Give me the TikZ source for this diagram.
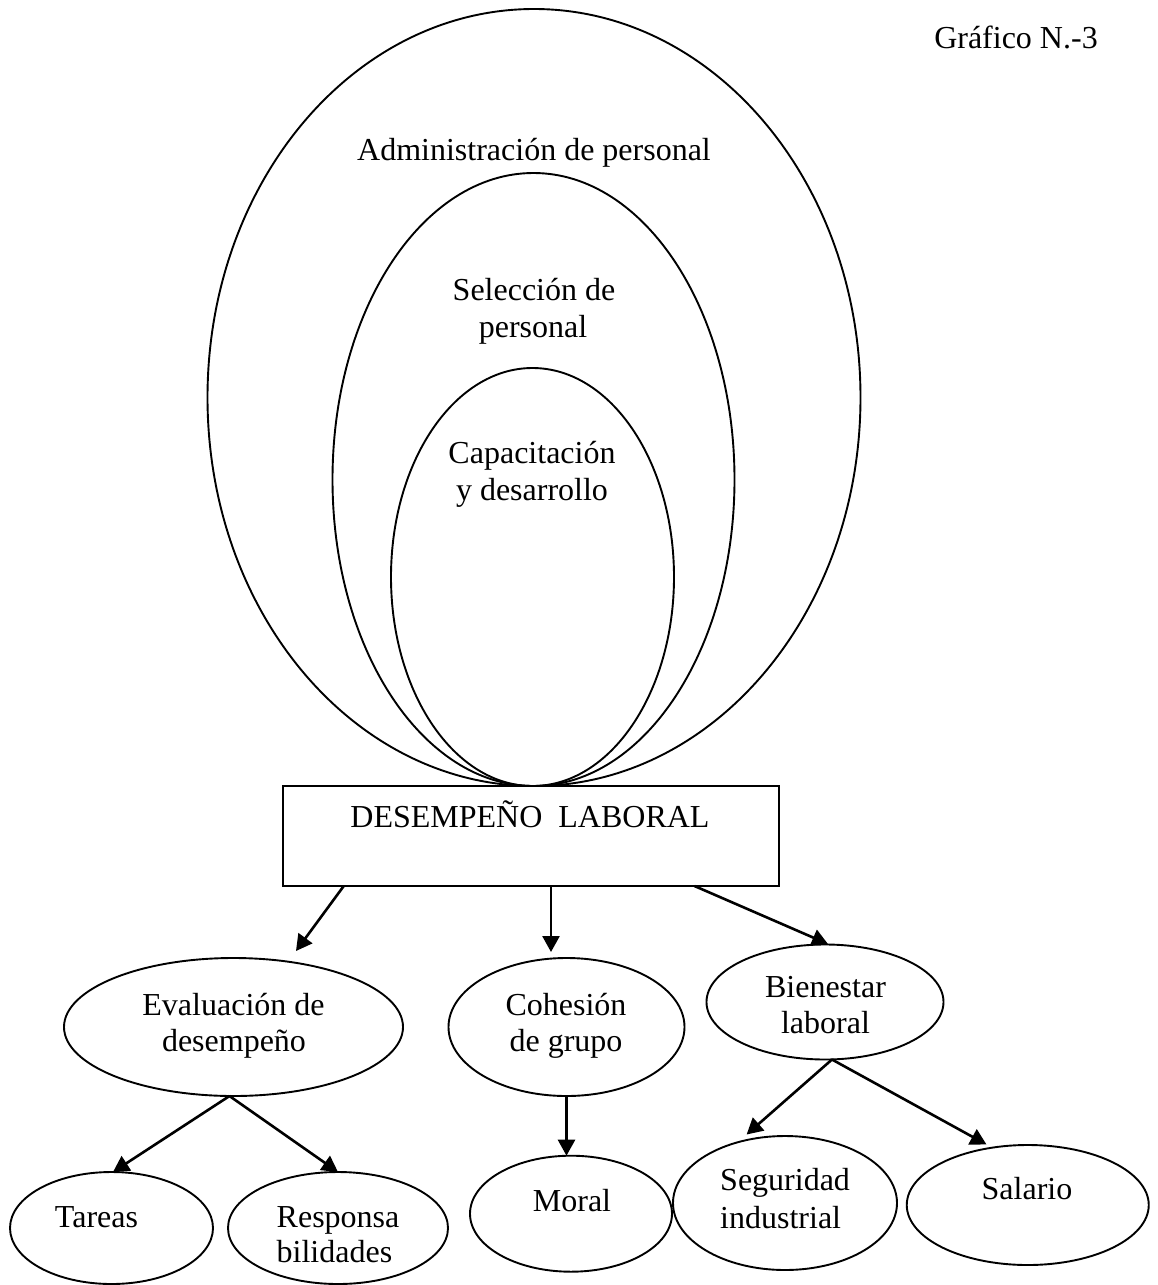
\documentclass[tikz,border=0pt]{standalone}
\usepackage{fontspec}
\setmainfont{Liberation Serif}
\usetikzlibrary{arrows.meta,calc,shapes.geometric}
\begin{document}
\begin{tikzpicture}[x=1pt,y=-1pt,
  shapeline/.style={draw, line width=1.9pt, inner sep=0pt, outer sep=0pt},
  oval/.style={shapeline, ellipse},
  txt/.style={inner sep=0pt, anchor=base, font=\fontsize{32}{36.5}\selectfont},
  txtl/.style={txt, anchor=base west},
  arr/.style={line width=2.6pt, -{Triangle[length=16pt,width=17pt]}}]
\useasboundingbox (0,0) rectangle (1157,1285);

% title
\node[txt] (title) at (1016,48) {Gráfico N.-3};

% nested ellipses
\node[oval, minimum width=653pt, minimum height=777pt] (adm) at (534,397.5) {};
\node[oval, minimum width=402pt, minimum height=613pt] (sel) at (533.5,479.5) {};
\node[oval, minimum width=283pt, minimum height=418pt] (cap) at (532.5,577) {};
\node[txt] (admt) at (534,160) {Administración de personal};
\node[txt] (selt1) at (534,300) {Selección de};
\node[txt] (selt2) at (533,337) {personal};
\node[txt] (capt1) at (532,463) {Capacitación};
\node[txt] (capt2) at (532,500) {y desarrollo};

% central box
\node[shapeline, rectangle, minimum width=496pt, minimum height=100pt] (des) at (531,836) {};
\node[txt] (dest) at (530,827) {DESEMPEÑO\ \ LABORAL};

% second level
\node[oval, minimum width=339pt, minimum height=138pt] (ev) at (233.5,1027) {};
\node[txt] (evt1) at (233.5,1015) {Evaluación de};
\node[txt] (evt2) at (234,1051) {desempeño};

\node[oval, minimum width=236pt, minimum height=138pt] (coh) at (566.5,1027) {};
\node[txt] (coht1) at (566,1015) {Cohesión};
\node[txt] (coht2) at (566,1051) {de grupo};

\node[oval, minimum width=237pt, minimum height=115pt] (bien) at (825,1002) {};
\node[txt] (bient1) at (825.5,997) {Bienestar};
\node[txt] (bient2) at (825.5,1033) {laboral};

% third level
\node[oval, minimum width=203pt, minimum height=112pt] (tar) at (111.5,1228) {};
\node[txt] (tart) at (96.5,1227) {Tareas};

\node[oval, minimum width=220pt, minimum height=112pt] (resp) at (338,1228) {};
\node[txtl] (respt1) at (276.5,1227) {Responsa};
\node[txtl] (respt2) at (276.5,1262) {bilidades};

\node[oval, minimum width=202pt, minimum height=116pt] (mor) at (571,1213.7) {};
\node[txt] (mort) at (572,1211) {Moral};

\node[oval, minimum width=224pt, minimum height=134pt] (seg) at (785,1203) {};
\node[txtl] (segt1) at (720,1190) {Seguridad};
\node[txtl] (segt2) at (720,1228) {industrial};

\node[oval, minimum width=242pt, minimum height=120pt] (sal) at (1027.75,1205) {};
\node[txt] (salt) at (1027,1199) {Salario};

% connectors
\draw[arr] ([xshift=-187.25pt]des.south) -- ($(ev.north)+(62.5,-7)$);
\draw[arr] ([xshift=20pt]des.south) -- ($(coh.north)+(-15.5,-6)$);
\draw[arr] ([xshift=163.5pt]des.south) -- ($(bien.north)+(3,-0.5)$);
\draw[arr] ([xshift=-4pt]ev.south) -- ($(tar.north)+(1.5,0)$);
\draw[arr] ([xshift=-4pt]ev.south) -- ($(resp.north)+(0,0)$);
\draw[arr] (coh.south) -- (coh.south |- mor.north);
\draw[arr] ([xshift=7pt]bien.south) -- ($(seg.north)+(-38.4,-1.5)$);
\draw[arr] ([xshift=7pt]bien.south) -- ($(sal.north)+(-41.25,-0.5)$);
\end{tikzpicture}
\end{document}
